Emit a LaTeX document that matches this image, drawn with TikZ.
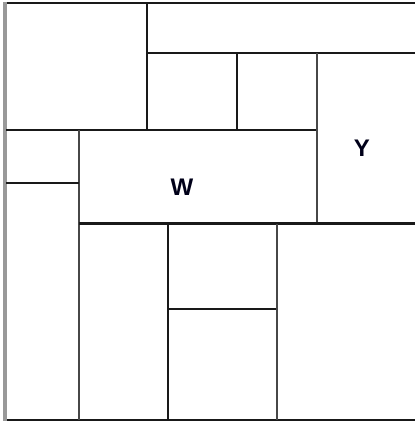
\documentclass[tikz,border=0pt]{standalone}
\usepackage{fontspec}
\setmainfont{Liberation Sans}
\begin{document}
\begin{tikzpicture}[x=1pt,y=-1pt,
  ln/.style={line width=2.6pt,draw=black!90},
  gln/.style={line width=2.8pt,draw=black!72},
  lbl/.style={font=\fontsize{24}{24}\selectfont\bfseries,text=black!90!blue,inner sep=0pt}]
\useasboundingbox (0,0) rectangle (415,421);
\fill[white] (0,0) rectangle (415,421);
% outer frame
\draw[ln] (5,3) -- (415,3);
\draw[ln] (5,420) -- (415,420);
\draw[line width=4pt,draw=black!40] (5,2) -- (5,421);
% top region
\draw[ln] (147,3) -- (147,130);
\draw[ln] (146,53) -- (415,53);
\draw[ln] (237,53) -- (237,130);
\draw[ln] (6,130) -- (317,130);
\draw[gln] (317,53) -- (317,224);
% middle
\draw[gln] (79,130) -- (79,420);
\draw[ln] (6,183) -- (79,183);
\draw[ln] (79,223.5) -- (415,223.5);
% bottom
\draw[ln] (168,223.5) -- (168,420);
\draw[ln] (168,309) -- (277,309);
\draw[gln] (277,223.5) -- (277,420);
% labels
\node[lbl] (w) at (182,187) {W};
\node[lbl] (y) at (362,148) {Y};
\end{tikzpicture}
\end{document}
